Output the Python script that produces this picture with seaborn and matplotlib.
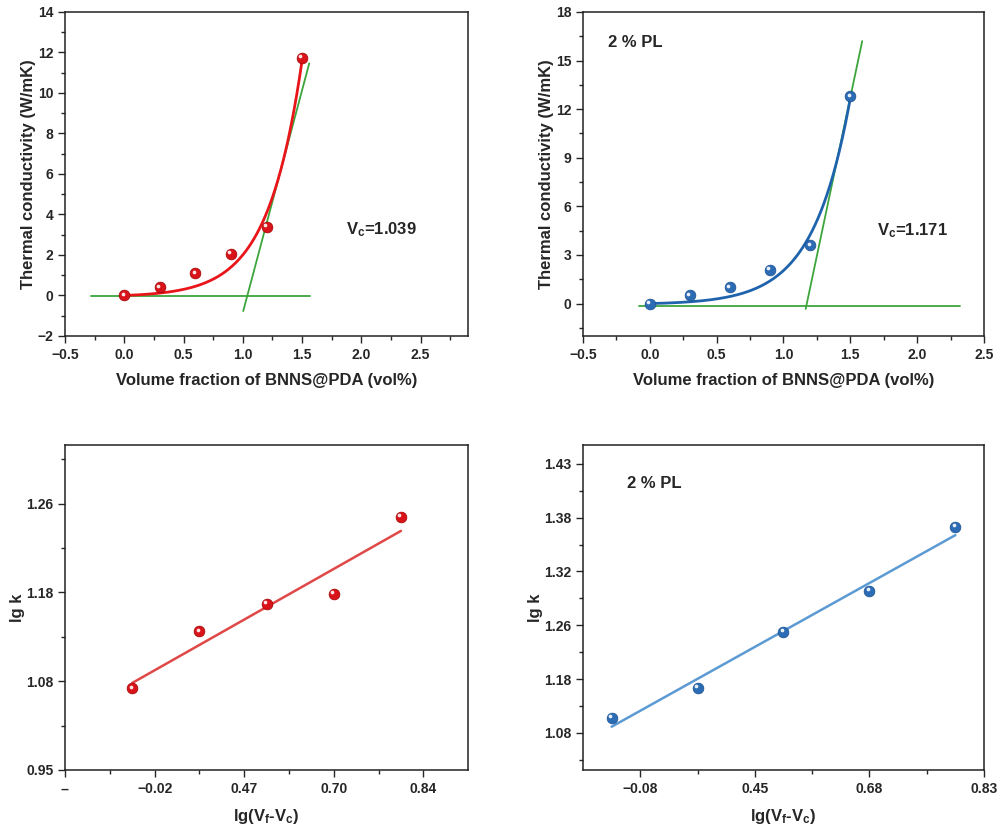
import numpy as np
import pandas as pd
import matplotlib
matplotlib.use("Agg")
import matplotlib.pyplot as plt
import matplotlib.transforms as mtransforms
from matplotlib.ticker import MultipleLocator, FixedLocator
import seaborn as sns

# Date
vol_frac = [0.0, 0.3, 0.6, 0.9, 1.2, 1.5]
k_neat = [0.0, 0.4, 1.1, 2.05, 3.4, 11.75]
k_pl = [0.0, 0.5, 1.0, 2.1, 3.6, 12.8]

# liniile de constructie pentru pragul de percolare
base_neat_x = [-0.28, 1.566]
base_neat_y = [-0.05, -0.05]
tan_neat_x = [1.003, 1.56]
tan_neat_y = [-0.77, 11.46]
base_pl_x = [-0.08, 2.32]
base_pl_y = [-0.12, -0.12]
tan_pl_x = [1.166, 1.589]
tan_pl_y = [-0.33, 16.2]

# graficele lg k - axe cu etichete neuniforme (pozitii de tick)
lg_neat_x = [0.75, 1.5, 2.25, 3.0, 3.75]
lg_neat_y = [0.92, 1.56, 1.87, 1.98, 2.85]
lg_pl_x = [-0.25, 0.5, 1.25, 2.0, 2.75]
lg_pl_y = [0.28, 0.84, 1.88, 2.64, 3.83]

lg_neat_xticks = ["--", "\u22120.02", "0.47", "0.70", "0.84"]
lg_neat_yticks = ["0.95", "1.08", "1.18", "1.26"]
lg_pl_xticks = ["\u22120.08", "0.45", "0.68", "0.83"]
lg_pl_yticks = ["1.08", "1.18", "1.26", "1.32", "1.38", "1.43"]

sns.set_style("ticks")
plt.rcParams['font.family'] = ['Liberation Sans', 'DejaVu Sans']
plt.rcParams['font.weight'] = 'bold'
plt.rcParams['axes.labelweight'] = 'bold'
plt.rcParams['mathtext.fontset'] = 'custom'
plt.rcParams['mathtext.rm'] = 'Liberation Sans:bold'
plt.rcParams['mathtext.bf'] = 'Liberation Sans:bold'
plt.rcParams['mathtext.it'] = 'Liberation Sans:bold'

RED = '#e8161b'
RED_PT = '#d8141a'
BLUE = '#1f63ad'
BLUE_PT = '#2c6cb5'
GREEN = '#3ca53c'
RED_LIN = '#e04848'
BLUE_LIN = '#5b9ad3'


def exp_fit(x, y):
    # fit y = a*(exp(b*x) - 1), cautare pe grila pentru b
    x = np.asarray(x)
    y = np.asarray(y)
    best = None
    for b in np.linspace(0.5, 8, 1501):
        g = np.exp(b * x) - 1
        a = np.sum(g * y) / np.sum(g * g)
        err = np.sum((a * g - y) ** 2)
        if best is None or err < best[0]:
            best = (err, b, a)
    _, b, a = best
    xs = np.linspace(x.min(), x.max(), 200)
    return xs, a * (np.exp(b * xs) - 1)


def sphere(ax, x, y, color):
    ax.scatter(x, y, s=60, color=color, edgecolor='#a00000' if color == RED_PT else '#1a4f8f',
               linewidth=0.5, zorder=5)
    off = mtransforms.offset_copy(ax.transData, fig=ax.figure, x=-1.2, y=1.2, units='points')
    ax.scatter(x, y, s=7, color='white', linewidth=0, alpha=0.9, zorder=6, transform=off)


def style_ax(ax):
    ax.tick_params(axis='both', which='major', direction='out', length=5, width=1,
                   labelsize=10, top=False, right=False)
    ax.tick_params(axis='both', which='minor', direction='out', length=3, width=1,
                   top=False, right=False)
    for s in ax.spines.values():
        s.set_linewidth(1.1)
        s.set_color('#222222')
        s.set_visible(True)
    for lab in ax.get_xticklabels() + ax.get_yticklabels():
        lab.set_fontweight('bold')


fig = plt.figure(figsize=(10.01, 8.30), dpi=100)
ax1 = fig.add_axes([0.065, 0.5952, 0.4026, 0.3904])
ax2 = fig.add_axes([0.5824, 0.5952, 0.4006, 0.3904])
ax3 = fig.add_axes([0.065, 0.0723, 0.4026, 0.3916])
ax4 = fig.add_axes([0.5824, 0.0723, 0.4006, 0.3916])

# 1. conductivitate termica - fara PL
xs, ys = exp_fit(vol_frac, k_neat)
sns.lineplot(x=base_neat_x, y=base_neat_y, ax=ax1, color=GREEN, lw=1.3)
sns.lineplot(x=tan_neat_x, y=tan_neat_y, ax=ax1, color=GREEN, lw=1.3)
sns.lineplot(x=xs, y=ys, ax=ax1, color=RED, lw=2)
sphere(ax1, vol_frac, k_neat, RED_PT)
ax1.set_xlim(-0.5, 2.9)
ax1.set_ylim(-2, 14)
ax1.xaxis.set_major_locator(MultipleLocator(0.5))
ax1.xaxis.set_minor_locator(MultipleLocator(0.25))
ax1.yaxis.set_major_locator(MultipleLocator(2))
ax1.yaxis.set_minor_locator(MultipleLocator(1))
ax1.set_xlabel('Volume fraction of BNNS@PDA (vol%)', fontsize=12, labelpad=8)
ax1.set_ylabel('Thermal conductivity (W/mK)', fontsize=12, labelpad=1)
ax1.text(1.87, 3.25, r'V$_\mathrm{c}$=1.039', fontsize=12, fontweight='bold', va='center')
style_ax(ax1)

# 2. conductivitate termica - 2 % PL
xs, ys = exp_fit(vol_frac, k_pl)
sns.lineplot(x=base_pl_x, y=base_pl_y, ax=ax2, color=GREEN, lw=1.3)
sns.lineplot(x=tan_pl_x, y=tan_pl_y, ax=ax2, color=GREEN, lw=1.3)
sns.lineplot(x=xs, y=ys, ax=ax2, color=BLUE, lw=2)
sphere(ax2, vol_frac, k_pl, BLUE_PT)
ax2.set_xlim(-0.5, 2.5)
ax2.set_ylim(-2, 18)
ax2.xaxis.set_major_locator(MultipleLocator(0.5))
ax2.xaxis.set_minor_locator(MultipleLocator(0.25))
ax2.yaxis.set_major_locator(MultipleLocator(3))
ax2.yaxis.set_minor_locator(MultipleLocator(1.5))
ax2.set_xlabel('Volume fraction of BNNS@PDA (vol%)', fontsize=12, labelpad=8)
ax2.set_ylabel('Thermal conductivity (W/mK)', fontsize=12, labelpad=1)
ax2.text(1.70, 4.5, r'V$_\mathrm{c}$=1.171', fontsize=12, fontweight='bold', va='center')
ax2.text(-0.31, 16.1, '2 % PL', fontsize=12, fontweight='bold', va='center')
style_ax(ax2)

# 3. lg k vs lg(Vf-Vc) - fara PL
sns.regplot(x=lg_neat_x, y=lg_neat_y, ax=ax3, ci=None, scatter=False, truncate=True,
            line_kws=dict(color=RED_LIN, lw=1.8))
sphere(ax3, lg_neat_x, lg_neat_y, RED_PT)
ax3.set_xlim(0, 4.5)
ax3.set_ylim(0, 3.66)
ax3.xaxis.set_major_locator(FixedLocator(range(len(lg_neat_xticks))))
ax3.xaxis.set_minor_locator(FixedLocator([0.5, 1.5, 2.5, 3.5]))
ax3.set_xticklabels(lg_neat_xticks)
ax3.yaxis.set_major_locator(FixedLocator(range(len(lg_neat_yticks))))
ax3.yaxis.set_minor_locator(FixedLocator([0.5, 1.5, 2.5, 3.5]))
ax3.set_yticklabels(lg_neat_yticks)
ax3.set_xlabel(r'lg(V$_\mathrm{f}$-V$_\mathrm{c}$)', fontsize=12, labelpad=8)
ax3.set_ylabel('lg k', fontsize=12, labelpad=1)
style_ax(ax3)

# 4. lg k vs lg(Vf-Vc) - 2 % PL
sns.regplot(x=lg_pl_x, y=lg_pl_y, ax=ax4, ci=None, scatter=False, truncate=True,
            line_kws=dict(color=BLUE_LIN, lw=1.8))
sphere(ax4, lg_pl_x, lg_pl_y, BLUE_PT)
ax4.set_xlim(-0.5, 3.0)
ax4.set_ylim(-0.69, 5.35)
ax4.xaxis.set_major_locator(FixedLocator(range(len(lg_pl_xticks))))
ax4.xaxis.set_minor_locator(FixedLocator([0.5, 1.5, 2.5]))
ax4.set_xticklabels(lg_pl_xticks)
ax4.yaxis.set_major_locator(FixedLocator(range(len(lg_pl_yticks))))
ax4.yaxis.set_minor_locator(FixedLocator([-0.5, 0.5, 1.5, 2.5, 3.5, 4.5]))
ax4.set_yticklabels(lg_pl_yticks)
ax4.set_xlabel(r'lg(V$_\mathrm{f}$-V$_\mathrm{c}$)', fontsize=12, labelpad=8)
ax4.set_ylabel('lg k', fontsize=12, labelpad=1)
ax4.text(0.11, 0.88, '2 % PL', transform=ax4.transAxes, fontsize=12, fontweight='bold', va='center')
style_ax(ax4)

plt.savefig('out.png', dpi=100)
plt.close()
